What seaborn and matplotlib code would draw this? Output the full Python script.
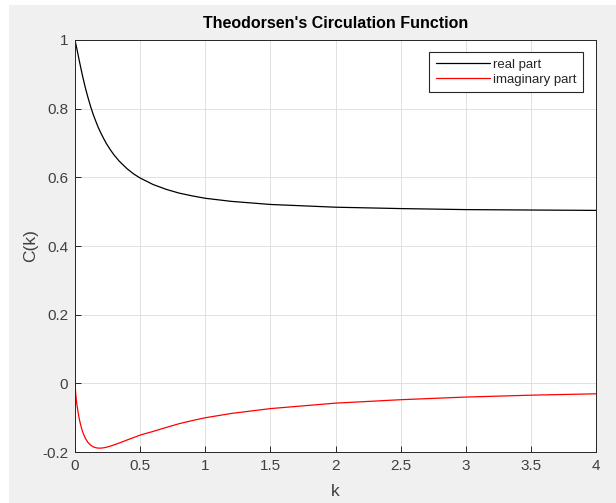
import matplotlib
matplotlib.use("Agg")
import matplotlib.pyplot as plt
import seaborn as sns
import pandas as pd
from matplotlib.patches import Rectangle

# Values (Theodorsen's circulation function)
k_values = [0.0, 0.005, 0.01, 0.015, 0.02, 0.025, 0.03, 0.04, 0.05, 0.06, 0.07, 0.08,
            0.1, 0.12, 0.14, 0.16, 0.18, 0.2, 0.22, 0.24, 0.27, 0.3, 0.34, 0.4, 0.45,
            0.5, 0.6, 0.7, 0.8, 0.9, 1.0, 1.2, 1.5, 2.0, 2.5, 3.0, 3.5, 4.0]
real_part = [1.0, 0.991, 0.982, 0.973, 0.964, 0.9545, 0.945, 0.927, 0.909, 0.892, 0.876, 0.860,
             0.832, 0.806, 0.783, 0.763, 0.744, 0.728, 0.713, 0.699, 0.681, 0.665, 0.647, 0.625, 0.610,
             0.598, 0.579, 0.565, 0.554, 0.546, 0.539, 0.530, 0.521, 0.513, 0.509, 0.506, 0.5048, 0.5037]
imag_part = [0.0, -0.027, -0.048, -0.063, -0.075, -0.087, -0.098, -0.116, -0.1305, -0.1426, -0.152, -0.1604,
             -0.1723, -0.1801, -0.185, -0.1876, -0.1888, -0.1886, -0.1878, -0.1862, -0.1830, -0.1793, -0.1738, -0.1650, -0.158,
             -0.1507, -0.1400, -0.1285, -0.1175, -0.1085, -0.1003, -0.0877, -0.0736, -0.0577, -0.0477, -0.0400, -0.0345, -0.0305]

x_ticks = [0, 0.5, 1, 1.5, 2, 2.5, 3, 3.5, 4]
y_ticks = [-0.2, 0, 0.2, 0.4, 0.6, 0.8, 1]

df = pd.DataFrame({"k": k_values, "real": real_part, "imag": imag_part})

sns.set_style("white")
plt.rcParams['font.family'] = ['Liberation Sans', 'DejaVu Sans']

fig = plt.figure(figsize=(6.16, 5.03), dpi=100)
fig.patch.set_facecolor("white")
fig.patches.append(Rectangle((9/616, 0), 607/616, 498/503, transform=fig.transFigure,
                             facecolor="#f0f0f0", edgecolor="none", zorder=-10))
ax = fig.add_axes([75/616, 51/503, 521/616, 412/503])
ax.set_facecolor("white")

sns.lineplot(data=df, x="k", y="real", ax=ax, color="black", linewidth=0.9,
             label="real part", estimator=None, sort=False)
sns.lineplot(data=df, x="k", y="imag", ax=ax, color="red", linewidth=0.9,
             label="imaginary part", estimator=None, sort=False)

ax.set_xlim(0, 4)
ax.set_ylim(-0.2, 1)
ax.set_xticks(x_ticks)
ax.set_xticklabels([f"{t:g}" for t in x_ticks])
ax.set_yticks(y_ticks)
ax.set_yticklabels([f"{t:g}" for t in y_ticks])
ax.grid(True, color="#dcdcdc", linewidth=0.6)
ax.set_axisbelow(True)
for s in ax.spines.values():
    s.set_color("#262626")
    s.set_linewidth(0.7)
    s.set_visible(True)
ax.tick_params(direction="in", length=4, width=0.7, colors="#262626", labelsize=11,
               labelcolor="#404040", pad=5, left=True, bottom=True)

ax.set_xlabel("k", fontsize=12.5, color="#404040", labelpad=8)
ax.set_ylabel("C(k)", fontsize=12.5, color="#404040", labelpad=3)
ax.set_title("Theodorsen's Circulation Function", fontsize=11.5, fontweight="bold", color="black", pad=9)

leg = ax.legend(loc="upper right", frameon=True, fancybox=False, fontsize=9.5,
                handlelength=4.1, handletextpad=0.25, borderpad=0.5, labelspacing=0.2,
                bbox_to_anchor=(0.9755, 0.971), borderaxespad=0)
leg.get_frame().set_edgecolor("#262626")
leg.get_frame().set_linewidth(0.8)
leg.get_frame().set_alpha(1)
for t in leg.get_texts():
    t.set_color("#262626")

fig.savefig("out.png", dpi=100, facecolor=fig.get_facecolor())
